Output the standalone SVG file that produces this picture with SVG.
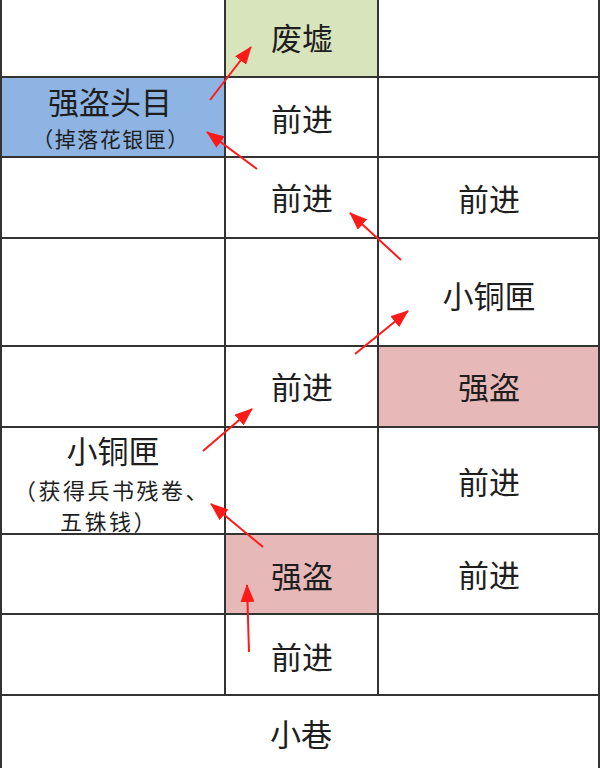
<svg xmlns="http://www.w3.org/2000/svg" width="600" height="768" viewBox="0 0 600 768">
<style>
.t{font-family:"Noto Sans CJK SC","Noto Sans",sans-serif;font-size:31px;fill:#1e1e1e;text-anchor:middle;dominant-baseline:central}
.s{font-size:21px;letter-spacing:1.5px}
.s2{font-size:22px;letter-spacing:2.5px}
.g{stroke:#333;stroke-width:2;fill:none}
.a{stroke:#ff1a1a;stroke-width:2;fill:none;marker-end:url(#ah)}
</style>
<defs>
<marker id="ah" viewBox="0 0 18 14" refX="17" refY="7" markerWidth="18" markerHeight="14" markerUnits="userSpaceOnUse" orient="auto">
<path d="M0,0 L18,7 L0,14 Z" fill="#ff1a1a"/>
</marker>
</defs>
<rect x="0" y="0" width="600" height="768" fill="#fff"/>
<g id="fills">
<rect x="225" y="0" width="153" height="77" fill="#d8e4bc"/>
<rect x="1" y="77" width="224" height="80" fill="#8db4e2"/>
<rect x="378" y="346" width="221" height="81" fill="#e6b8b7"/>
<rect x="225" y="534" width="153" height="80" fill="#e6b8b7"/>
</g>
<g id="grid" class="g">
<line x1="1" y1="0" x2="1" y2="768"/>
<line x1="599" y1="0" x2="599" y2="768"/>
<line x1="225" y1="0" x2="225" y2="695"/>
<line x1="378" y1="0" x2="378" y2="695"/>
<line x1="0" y1="77" x2="600" y2="77"/>
<line x1="0" y1="157" x2="600" y2="157"/>
<line x1="0" y1="238" x2="600" y2="238"/>
<line x1="0" y1="346" x2="600" y2="346"/>
<line x1="0" y1="427" x2="600" y2="427"/>
<line x1="0" y1="534" x2="600" y2="534"/>
<line x1="0" y1="614" x2="600" y2="614"/>
<line x1="0" y1="695" x2="600" y2="695"/>
</g>
<g id="n-feixu"><text class="t" x="302" y="36">废墟</text></g>
<g id="n-boss"><text class="t" x="110" y="100">强盗头目</text><text class="t s" x="111" y="138">（掉落花银匣）</text></g>
<g id="n-m2"><text class="t" x="302" y="117">前进</text></g>
<g id="n-m3"><text class="t" x="302" y="196">前进</text></g>
<g id="n-r3"><text class="t" x="489" y="197">前进</text></g>
<g id="n-r4"><text class="t" x="489" y="294">小铜匣</text></g>
<g id="n-m5"><text class="t" x="302" y="385">前进</text></g>
<g id="n-r5"><text class="t" x="489" y="385">强盗</text></g>
<g id="n-l6"><text class="t" x="113" y="449">小铜匣</text><text class="t s2" x="112" y="489">（获得兵书残卷、</text><text class="t s2" x="109" y="520">五铢钱）</text></g>
<g id="n-r6"><text class="t" x="489" y="480">前进</text></g>
<g id="n-m7"><text class="t" x="302" y="574">强盗</text></g>
<g id="n-r7"><text class="t" x="489" y="573">前进</text></g>
<g id="n-m8"><text class="t" x="302" y="655">前进</text></g>
<g id="n-xiang"><text class="t" x="301" y="732">小巷</text></g>
<g id="connectors">
<line class="a" x1="249" y1="652" x2="247" y2="585"/>
<line class="a" x1="263" y1="547" x2="211" y2="504"/>
<line class="a" x1="203" y1="451" x2="252" y2="409"/>
<line class="a" x1="355" y1="354" x2="408" y2="311"/>
<line class="a" x1="401" y1="260" x2="350" y2="213"/>
<line class="a" x1="257" y1="169" x2="207" y2="132"/>
<line class="a" x1="210" y1="100" x2="251" y2="47"/>
</g>
</svg>
